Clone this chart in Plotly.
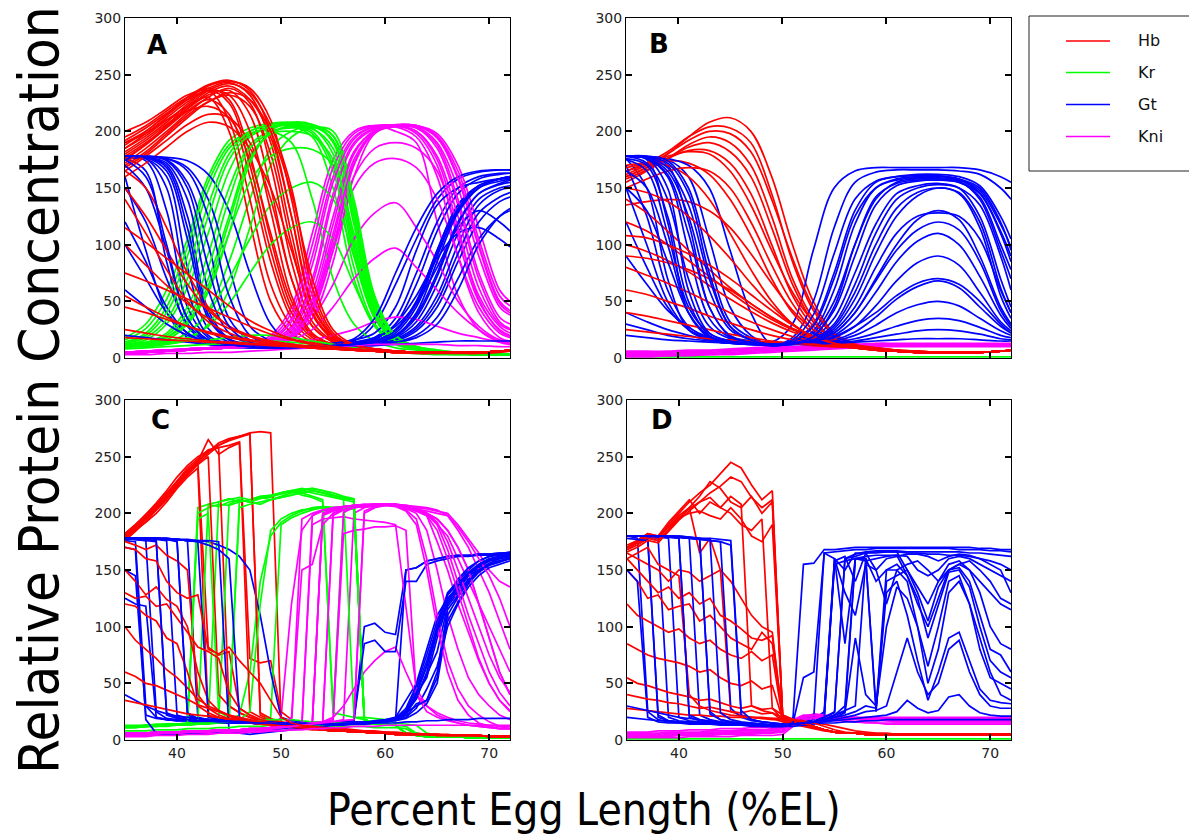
import plotly.graph_objects as go

# Positions along the anterior-posterior axis (%EL)
EL_SMOOTH = [35, 37, 39, 41, 43, 45, 47, 49, 51, 53, 55, 57, 59, 61, 63, 65, 67, 69, 71, 72]
EL_FINE = [35, 36, 37, 38, 39, 40, 41, 42, 43, 44, 45, 46, 47, 48, 49, 50, 51, 52, 53,
           54, 55, 56, 57, 58, 59, 60, 61, 62, 63, 64, 65, 66, 67, 68, 69, 70, 71, 72]

GENES = ["Hb", "Kr", "Gt", "Kni"]
GENE_COLORS = {"Hb": "#ff0000", "Kr": "#00ff00", "Gt": "#0000ff", "Kni": "#ff00ff"}

Y_TICKS = [0, 50, 100, 150, 200, 250, 300]
X_TICKS = [40, 50, 60, 70]

# ---------------- Panel A (smooth profiles, EL_SMOOTH) ----------------
A_HB = [
    [185, 198, 212, 226, 238, 243, 232, 190, 110, 40, 18, 10, 8, 6, 5, 5, 5, 5, 6, 7],
    [190, 200, 214, 228, 240, 244, 238, 210, 140, 55, 20, 11, 8, 6, 5, 5, 5, 5, 6, 7],
    [180, 192, 206, 220, 232, 236, 215, 150, 70, 28, 14, 9, 7, 6, 5, 5, 5, 5, 6, 7],
    [195, 205, 218, 230, 238, 228, 180, 105, 45, 20, 12, 9, 7, 6, 5, 5, 5, 5, 6, 7],
    [175, 188, 203, 218, 228, 215, 160, 85, 35, 16, 10, 8, 6, 5, 5, 5, 5, 5, 6, 7],
    [200, 208, 220, 232, 236, 210, 140, 65, 28, 14, 10, 8, 6, 5, 5, 5, 5, 5, 6, 7],
    [170, 182, 198, 214, 226, 232, 222, 180, 100, 38, 17, 10, 7, 6, 5, 5, 5, 5, 6, 7],
    [185, 196, 210, 222, 230, 200, 120, 50, 22, 12, 9, 7, 6, 5, 5, 5, 5, 5, 6, 7],
    [165, 178, 192, 206, 215, 212, 190, 140, 70, 28, 14, 9, 7, 6, 5, 5, 5, 5, 6, 7],
    [190, 198, 210, 218, 222, 212, 175, 110, 50, 20, 12, 9, 7, 6, 5, 5, 5, 5, 6, 7],
    [178, 190, 204, 220, 234, 240, 228, 195, 125, 48, 19, 10, 7, 6, 5, 5, 5, 5, 6, 7],
    [160, 172, 186, 200, 208, 204, 185, 150, 95, 40, 16, 10, 7, 6, 5, 5, 5, 5, 6, 7],
    [172, 185, 200, 216, 230, 238, 225, 170, 85, 32, 15, 9, 7, 6, 5, 5, 5, 5, 6, 7],
    [182, 194, 208, 224, 236, 225, 170, 95, 40, 18, 11, 8, 6, 5, 5, 5, 5, 5, 6, 7],
    [188, 200, 215, 230, 241, 245, 236, 200, 125, 45, 19, 10, 8, 6, 5, 5, 5, 5, 6, 7],
    [176, 189, 205, 222, 236, 242, 234, 205, 150, 62, 22, 11, 8, 6, 5, 5, 5, 5, 6, 7],
    [192, 203, 216, 228, 236, 232, 200, 130, 55, 22, 12, 9, 7, 6, 5, 5, 5, 5, 6, 7],
    [168, 180, 196, 212, 226, 234, 228, 200, 145, 70, 25, 12, 8, 6, 5, 5, 5, 5, 6, 7],
    [165, 150, 115, 75, 45, 28, 19, 14, 11, 9, 8, 7, 6, 5, 5, 5, 5, 5, 6, 7],
    [150, 125, 95, 65, 42, 28, 20, 15, 12, 10, 8, 7, 6, 5, 5, 5, 5, 5, 6, 7],
    [140, 110, 78, 50, 32, 22, 16, 13, 11, 9, 8, 7, 6, 5, 5, 5, 5, 5, 6, 7],
    [115, 102, 88, 74, 60, 46, 33, 24, 17, 13, 10, 8, 7, 6, 5, 5, 5, 5, 6, 7],
    [100, 82, 64, 48, 35, 26, 19, 15, 12, 10, 8, 7, 6, 5, 5, 5, 5, 5, 6, 7],
    [75, 68, 60, 52, 44, 36, 28, 21, 16, 12, 10, 8, 7, 6, 5, 5, 5, 5, 6, 7],
    [55, 45, 36, 28, 22, 18, 15, 13, 11, 9, 8, 7, 6, 5, 5, 5, 5, 5, 6, 7],
    [45, 40, 34, 28, 23, 19, 16, 13, 11, 9, 8, 7, 6, 5, 5, 5, 5, 5, 6, 7],
    [25, 22, 19, 17, 15, 14, 13, 12, 11, 10, 9, 8, 7, 6, 5, 5, 5, 5, 6, 7],
    [18, 17, 16, 15, 14, 13, 12, 11, 10, 9, 8, 7, 6, 5, 4, 4, 4, 4, 5, 6],
]
A_KR = [
    [18, 30, 60, 105, 160, 192, 203, 207, 208, 206, 196, 130, 50, 20, 10, 7, 5, 4, 3, 3],
    [12, 16, 30, 62, 110, 165, 195, 203, 205, 200, 170, 90, 35, 15, 9, 6, 4, 3, 3, 3],
    [10, 12, 18, 35, 70, 125, 178, 198, 204, 195, 150, 70, 28, 13, 8, 6, 4, 3, 3, 3],
    [10, 11, 14, 22, 42, 85, 140, 185, 200, 204, 192, 120, 45, 18, 9, 6, 4, 3, 3, 3],
    [14, 22, 45, 90, 148, 185, 198, 200, 190, 140, 70, 30, 15, 9, 7, 5, 4, 3, 3, 3],
    [12, 14, 22, 45, 92, 150, 188, 200, 203, 202, 185, 105, 40, 16, 9, 6, 4, 3, 3, 3],
    [16, 26, 52, 98, 155, 188, 200, 205, 205, 198, 165, 80, 30, 14, 8, 6, 4, 3, 3, 3],
    [10, 12, 16, 30, 60, 110, 155, 178, 185, 184, 170, 110, 42, 16, 9, 6, 4, 3, 3, 3],
    [10, 11, 14, 22, 40, 70, 105, 135, 150, 155, 140, 90, 35, 15, 9, 6, 4, 3, 3, 3],
    [10, 11, 13, 18, 28, 48, 75, 100, 115, 120, 105, 65, 28, 12, 8, 6, 4, 3, 3, 3],
    [10, 10, 12, 16, 30, 60, 115, 170, 195, 203, 200, 140, 55, 20, 10, 6, 4, 3, 3, 3],
    [10, 12, 16, 30, 58, 110, 172, 200, 208, 206, 190, 118, 42, 17, 9, 6, 4, 3, 3, 3],
    [11, 13, 20, 40, 80, 140, 185, 198, 200, 196, 175, 95, 36, 15, 8, 6, 4, 3, 3, 3],
    [14, 20, 40, 80, 135, 180, 200, 206, 207, 205, 192, 125, 48, 19, 10, 7, 5, 4, 3, 3],
    [11, 13, 18, 32, 64, 120, 175, 198, 205, 204, 196, 135, 52, 20, 10, 6, 4, 3, 3, 3],
    [13, 18, 34, 70, 125, 175, 197, 204, 206, 203, 180, 100, 38, 15, 9, 6, 4, 3, 3, 3],
    [12, 13, 14, 15, 16, 18, 20, 20, 18, 15, 12, 9, 7, 5, 4, 4, 3, 3, 3, 3],
    [8, 9, 10, 11, 12, 13, 14, 15, 14, 12, 10, 8, 6, 5, 4, 3, 3, 3, 3, 3],
]
A_GT = [
    [160, 95, 40, 18, 12, 10, 9, 9, 9, 10, 10, 12, 15, 25, 50, 95, 135, 152, 158, 160],
    [176, 165, 85, 28, 14, 11, 10, 9, 10, 10, 11, 13, 18, 35, 75, 120, 150, 160, 163, 163],
    [177, 174, 130, 45, 18, 12, 10, 9, 9, 9, 10, 11, 13, 18, 32, 65, 110, 140, 150, 152],
    [178, 176, 160, 80, 26, 14, 11, 10, 10, 11, 12, 15, 30, 65, 105, 140, 158, 164, 166, 166],
    [178, 177, 170, 125, 42, 17, 12, 10, 9, 9, 10, 11, 12, 15, 24, 45, 85, 120, 138, 142],
    [178, 178, 175, 155, 100, 35, 16, 12, 9, 10, 10, 11, 13, 17, 28, 55, 100, 135, 148, 150],
    [177, 178, 176, 168, 140, 80, 28, 15, 9, 10, 11, 12, 16, 30, 55, 88, 110, 115, 105, 98],
    [176, 177, 177, 174, 162, 130, 75, 30, 12, 10, 11, 13, 17, 30, 65, 112, 145, 158, 162, 163],
    [150, 120, 70, 30, 15, 11, 10, 9, 9, 9, 10, 11, 12, 14, 20, 36, 70, 105, 125, 130],
    [120, 85, 45, 22, 13, 10, 9, 9, 10, 11, 13, 16, 22, 45, 95, 135, 150, 155, 158, 158],
    [100, 70, 40, 22, 14, 11, 10, 9, 9, 10, 10, 12, 15, 25, 50, 95, 135, 152, 158, 160],
    [178, 177, 172, 140, 60, 22, 13, 11, 10, 11, 12, 14, 18, 28, 48, 80, 115, 130, 120, 112],
    [178, 176, 150, 60, 20, 13, 11, 10, 9, 10, 10, 12, 14, 20, 38, 75, 120, 145, 153, 155],
    [178, 178, 176, 165, 125, 55, 20, 12, 10, 10, 11, 12, 13, 16, 26, 50, 92, 128, 142, 146],
    [60, 45, 30, 20, 14, 11, 10, 9, 10, 11, 13, 17, 35, 75, 115, 145, 160, 165, 166, 166],
    [20, 18, 16, 14, 12, 11, 10, 9, 9, 9, 10, 10, 11, 12, 13, 14, 15, 15, 15, 15],
    [178, 177, 165, 105, 35, 16, 12, 10, 9, 9, 10, 11, 12, 14, 18, 30, 60, 100, 125, 132],
    [170, 150, 95, 35, 16, 12, 10, 9, 10, 10, 11, 12, 14, 20, 40, 85, 128, 150, 158, 160],
    [178, 177, 168, 115, 38, 16, 12, 10, 9, 10, 10, 12, 14, 22, 45, 90, 130, 150, 156, 158],
    [175, 160, 100, 35, 16, 12, 10, 9, 9, 10, 11, 12, 15, 24, 48, 92, 132, 152, 158, 160],
    [178, 178, 174, 150, 80, 28, 14, 11, 10, 10, 11, 12, 14, 19, 36, 72, 118, 145, 154, 157],
]
A_KNI = [
    [5, 6, 7, 8, 9, 10, 12, 20, 45, 110, 175, 200, 205, 200, 190, 120, 55, 25, 14, 12],
    [5, 6, 7, 8, 9, 10, 11, 15, 28, 70, 145, 190, 203, 205, 198, 170, 105, 50, 25, 20],
    [4, 5, 6, 7, 8, 9, 10, 13, 20, 48, 110, 175, 200, 205, 204, 190, 150, 90, 45, 38],
    [4, 5, 6, 7, 8, 9, 10, 12, 17, 35, 85, 160, 198, 205, 205, 198, 170, 115, 60, 50],
    [5, 6, 7, 8, 9, 10, 12, 17, 35, 90, 160, 195, 204, 204, 195, 160, 90, 40, 18, 15],
    [5, 5, 6, 7, 8, 9, 10, 14, 24, 58, 125, 182, 200, 204, 203, 185, 135, 70, 32, 26],
    [4, 5, 6, 7, 8, 9, 10, 13, 20, 45, 100, 160, 185, 190, 185, 165, 110, 55, 28, 22],
    [4, 5, 6, 7, 8, 9, 10, 13, 20, 42, 95, 150, 172, 176, 168, 140, 90, 45, 22, 18],
    [4, 5, 6, 7, 8, 9, 10, 12, 18, 35, 65, 105, 128, 137, 115, 85, 50, 28, 16, 14],
    [4, 5, 6, 7, 8, 9, 10, 12, 16, 25, 45, 70, 88, 97, 80, 60, 40, 25, 15, 13],
    [4, 5, 6, 7, 8, 9, 10, 11, 13, 16, 20, 25, 32, 36, 34, 28, 22, 18, 14, 13],
    [5, 6, 7, 8, 9, 10, 12, 18, 40, 100, 168, 198, 205, 205, 200, 178, 125, 62, 30, 25],
    [4, 5, 6, 7, 8, 9, 10, 12, 18, 40, 95, 170, 200, 206, 205, 195, 160, 100, 50, 42],
    [5, 6, 7, 8, 9, 10, 11, 14, 26, 65, 140, 188, 202, 205, 203, 188, 140, 75, 36, 30],
    [4, 5, 6, 7, 8, 9, 10, 13, 22, 52, 118, 180, 201, 205, 205, 196, 165, 105, 55, 46],
    [5, 6, 7, 8, 9, 10, 12, 16, 32, 82, 155, 193, 204, 205, 200, 175, 115, 52, 24, 19],
    [4, 5, 6, 7, 8, 9, 10, 12, 19, 45, 105, 172, 199, 205, 205, 194, 158, 98, 48, 40],
    [3, 3, 4, 4, 5, 5, 6, 7, 8, 9, 10, 11, 12, 12, 12, 12, 11, 11, 10, 10],
]

# ---------------- Panel B (smooth profiles, EL_SMOOTH) ----------------
B_HB = [
    [160, 168, 180, 195, 208, 212, 200, 160, 100, 50, 22, 13, 9, 7, 6, 5, 5, 5, 6, 7],
    [165, 172, 182, 195, 204, 203, 190, 145, 85, 42, 20, 12, 9, 7, 6, 5, 5, 5, 6, 7],
    [155, 165, 176, 188, 195, 190, 170, 125, 70, 35, 17, 11, 8, 6, 5, 5, 5, 5, 6, 7],
    [160, 168, 176, 183, 183, 172, 145, 100, 55, 28, 15, 10, 8, 6, 5, 5, 5, 5, 6, 7],
    [165, 170, 174, 172, 162, 140, 108, 70, 40, 22, 13, 10, 8, 6, 5, 5, 5, 5, 6, 7],
    [150, 158, 165, 168, 165, 150, 120, 82, 48, 25, 14, 10, 8, 6, 5, 5, 5, 5, 6, 7],
    [170, 172, 170, 160, 140, 110, 78, 50, 30, 18, 12, 9, 7, 6, 5, 5, 5, 5, 6, 7],
    [158, 166, 176, 186, 190, 182, 160, 115, 65, 32, 16, 11, 8, 6, 5, 5, 5, 5, 6, 7],
    [162, 170, 180, 192, 200, 198, 182, 140, 88, 45, 21, 12, 9, 7, 6, 5, 5, 5, 6, 7],
    [168, 172, 178, 182, 180, 165, 135, 95, 58, 32, 17, 11, 9, 7, 6, 5, 5, 5, 6, 7],
    [135, 138, 140, 138, 130, 115, 92, 66, 42, 25, 15, 10, 8, 6, 5, 5, 5, 5, 6, 7],
    [140, 128, 112, 95, 78, 62, 48, 36, 26, 19, 14, 10, 8, 6, 5, 5, 5, 5, 6, 7],
    [120, 112, 100, 86, 72, 58, 45, 34, 25, 18, 13, 10, 8, 6, 5, 5, 5, 5, 6, 7],
    [100, 94, 86, 76, 64, 52, 41, 31, 23, 17, 13, 10, 8, 6, 5, 5, 5, 5, 6, 7],
    [90, 88, 84, 78, 70, 60, 48, 36, 26, 19, 14, 10, 8, 6, 5, 5, 5, 5, 6, 7],
    [80, 73, 66, 58, 49, 40, 32, 25, 19, 15, 12, 9, 7, 6, 5, 5, 5, 5, 6, 7],
    [60, 56, 50, 44, 37, 31, 25, 20, 16, 13, 11, 9, 7, 6, 5, 5, 5, 5, 6, 7],
    [40, 37, 33, 29, 25, 21, 18, 15, 13, 11, 10, 9, 7, 6, 5, 5, 5, 5, 6, 7],
    [25, 23, 21, 19, 17, 16, 15, 14, 13, 12, 10, 9, 7, 6, 5, 5, 5, 5, 6, 7],
    [150, 146, 138, 125, 108, 88, 66, 46, 30, 19, 13, 10, 8, 6, 5, 5, 5, 5, 6, 7],
    [108, 106, 100, 92, 82, 70, 56, 42, 29, 19, 13, 10, 8, 6, 5, 5, 5, 5, 6, 7],
]
B_KR = [
    [1, 1, 1, 1, 1, 1, 1, 1, 1, 1, 1, 1, 1, 1, 1, 1, 1, 1, 1, 1],
]
B_GT = [
    [178, 175, 120, 40, 18, 14, 13, 12, 15, 30, 75, 130, 155, 160, 162, 162, 160, 152, 125, 105],
    [178, 178, 170, 120, 45, 20, 15, 14, 30, 95, 150, 165, 168, 168, 168, 168, 168, 166, 160, 155],
    [176, 150, 70, 25, 16, 13, 12, 12, 13, 15, 22, 40, 70, 100, 122, 130, 122, 90, 45, 30],
    [178, 177, 175, 160, 105, 45, 20, 12, 18, 50, 115, 155, 164, 166, 166, 166, 165, 162, 150, 140],
    [178, 178, 176, 170, 150, 95, 40, 12, 14, 24, 60, 118, 150, 158, 160, 160, 158, 150, 120, 95],
    [120, 80, 45, 25, 17, 14, 13, 12, 13, 15, 20, 34, 58, 85, 103, 110, 100, 72, 38, 26],
    [170, 125, 60, 28, 17, 14, 13, 12, 13, 18, 35, 75, 118, 145, 152, 154, 150, 125, 70, 45],
    [178, 176, 160, 95, 35, 18, 14, 12, 14, 22, 50, 100, 140, 155, 158, 158, 156, 140, 95, 70],
    [90, 65, 42, 27, 18, 14, 13, 12, 13, 14, 16, 23, 36, 52, 63, 68, 62, 45, 28, 22],
    [178, 172, 140, 70, 28, 17, 14, 12, 13, 20, 42, 90, 135, 152, 156, 157, 155, 145, 110, 85],
    [175, 165, 110, 45, 22, 15, 13, 12, 13, 16, 26, 52, 92, 125, 143, 150, 145, 115, 55, 35],
    [40, 32, 25, 20, 16, 14, 13, 11, 12, 13, 14, 17, 22, 28, 33, 35, 33, 27, 20, 18],
    [178, 178, 174, 150, 85, 32, 18, 12, 13, 17, 30, 65, 110, 140, 150, 153, 150, 135, 90, 60],
    [150, 100, 50, 25, 16, 13, 12, 12, 13, 14, 18, 28, 46, 68, 84, 90, 82, 58, 32, 24],
    [178, 176, 165, 125, 60, 25, 16, 12, 13, 15, 24, 45, 80, 110, 125, 128, 125, 105, 60, 40],
    [30, 25, 20, 17, 15, 13, 12, 11, 12, 13, 14, 15, 18, 21, 24, 25, 24, 21, 17, 16],
    [178, 177, 168, 135, 70, 28, 16, 12, 13, 14, 15, 20, 29, 40, 47, 50, 46, 35, 24, 20],
    [20, 18, 16, 15, 14, 13, 12, 11, 12, 12, 13, 14, 15, 16, 17, 17, 17, 16, 15, 15],
    [178, 176, 150, 60, 22, 15, 13, 12, 16, 38, 92, 140, 156, 160, 161, 161, 158, 148, 118, 98],
    [176, 170, 125, 50, 20, 14, 13, 12, 14, 28, 70, 125, 150, 157, 159, 159, 157, 146, 112, 90],
    [178, 177, 172, 145, 75, 28, 16, 12, 13, 19, 45, 100, 142, 154, 157, 157, 155, 142, 100, 78],
    [150, 130, 85, 40, 19, 14, 13, 12, 13, 16, 28, 58, 100, 132, 146, 150, 146, 120, 62, 40],
    [165, 150, 100, 40, 19, 14, 13, 12, 13, 15, 22, 40, 68, 95, 113, 120, 113, 85, 42, 28],
    [178, 176, 162, 110, 45, 19, 14, 12, 13, 15, 19, 28, 40, 55, 66, 70, 65, 50, 30, 22],
]
B_KNI = [
    [2, 2, 2, 3, 3, 4, 5, 6, 7, 8, 9, 10, 10, 11, 11, 11, 11, 11, 11, 11],
    [4, 4, 4, 5, 5, 6, 7, 8, 9, 10, 11, 11, 12, 12, 12, 12, 12, 12, 12, 12],
    [6, 6, 6, 7, 7, 8, 9, 10, 10, 11, 12, 12, 13, 13, 13, 13, 13, 13, 13, 13],
    [3, 3, 3, 4, 4, 5, 6, 7, 8, 9, 10, 11, 11, 12, 12, 12, 12, 12, 12, 12],
    [5, 5, 5, 6, 6, 7, 8, 9, 9, 10, 11, 12, 12, 12, 12, 12, 12, 12, 12, 12],
    [1, 1, 2, 2, 3, 3, 4, 5, 6, 7, 8, 9, 10, 10, 10, 10, 10, 10, 10, 10],
]

# ---------------- Panel C (per-%EL profiles, EL_FINE) ----------------
C_HB = [
    [180, 188, 196, 204, 214, 224, 234, 244, 252, 260, 265, 268, 271, 272, 271,
     16, 14, 12, 11, 10, 9, 8, 8, 7, 7, 6, 6, 5, 5, 5, 4, 4, 4, 4, 3, 3, 3, 3],
    [182, 190, 198, 207, 216, 226, 236, 246, 254, 260, 264, 267, 270,
     22, 18, 15, 13, 12, 11, 10, 9, 8, 8, 7, 7, 6, 6, 5, 5, 5, 4, 4, 4, 4, 3, 3, 3, 3],
    [178, 186, 195, 205, 215, 228, 238, 246, 265, 252, 258, 262,
     72, 68, 70, 25, 18, 15, 13, 12, 11, 10, 9, 8, 8, 7, 7, 6, 6, 5, 5, 5, 4, 4, 4, 3, 3, 3],
    [176, 184, 193, 203, 213, 225, 236, 245,
     82, 75, 78, 28, 22, 18, 15, 14, 13, 12, 11, 10, 9, 8, 8, 7, 7, 6, 6, 5, 5, 5, 4, 4, 4, 4, 3, 3, 3, 3],
    [180, 185, 192, 200, 210, 222, 232, 240,
     22, 19, 17, 16, 15, 14, 13, 12, 12, 11, 10, 9, 8, 8, 7, 7, 6, 6, 5, 5, 5, 4, 4, 4, 4, 3, 3, 3, 3, 3],
    [179, 187, 197, 206, 217, 229, 240, 248, 256, 258, 260, 263,
     25, 20, 17, 15, 13, 12, 11, 10, 9, 8, 8, 7, 7, 6, 6, 5, 5, 5, 4, 4, 4, 3, 3, 3, 3, 3],
    [181, 189, 199, 209, 220, 232, 242, 250, 255, 258,
     30, 24, 20, 17, 15, 13, 12, 11, 10, 9, 8, 8, 7, 7, 6, 6, 5, 5, 5, 4, 4, 4, 4, 3, 3, 3, 3, 3],
    [182, 190, 199, 208, 218, 228, 238, 246, 254, 262, 266, 268, 270,
     24, 19, 16, 14, 12, 11, 10, 9, 8, 8, 7, 7, 6, 6, 5, 5, 5, 4, 4, 4, 4, 3, 3, 3, 3],
    [178, 185, 193, 203, 212, 224, 234, 243, 250,
     40, 30, 24, 20, 17, 15, 13, 12, 11, 10, 9, 8, 8, 7, 7, 6, 6, 5, 5, 5, 4, 4, 4, 4, 3, 3, 3, 3, 3],
    [175, 172, 168, 172, 163, 158, 150, 40, 28, 22, 19, 17, 16, 15, 14, 13, 12, 11, 10,
     9, 8, 8, 7, 7, 6, 6, 5, 5, 5, 5, 5, 4, 4, 4, 4, 3, 3, 3],
    [150, 140, 128, 135, 124, 118, 100, 60, 35, 26, 21, 18, 16, 15, 14, 13, 12, 11, 10,
     9, 8, 8, 7, 7, 6, 6, 5, 5, 5, 5, 4, 4, 4, 4, 4, 3, 3, 3],
    [130, 125, 127, 118, 120, 108, 95, 82, 78, 72, 42, 28, 22, 18, 16, 14, 12, 11, 10,
     9, 8, 8, 7, 7, 6, 6, 5, 5, 5, 5, 4, 4, 4, 4, 4, 3, 3, 3],
    [120, 118, 110, 105, 90, 85, 60, 30, 24, 20, 18, 16, 15, 14, 13, 12, 11, 10, 9,
     9, 8, 8, 7, 7, 6, 6, 5, 5, 5, 5, 4, 4, 4, 4, 4, 3, 3, 3],
    [100, 88, 80, 72, 62, 55, 46, 36, 30, 26, 22, 19, 17, 15, 14, 13, 12, 11, 10,
     9, 8, 8, 7, 7, 6, 6, 5, 5, 5, 5, 4, 4, 4, 4, 4, 3, 3, 3],
    [60, 56, 50, 48, 44, 40, 36, 31, 28, 25, 22, 20, 18, 16, 15, 14, 12, 11, 10,
     9, 8, 8, 7, 7, 6, 6, 5, 5, 5, 5, 4, 4, 4, 4, 4, 3, 3, 3],
    [35, 33, 31, 29, 27, 25, 23, 22, 21, 20, 19, 18, 17, 16, 15, 14, 13, 12, 11,
     10, 9, 8, 8, 7, 7, 6, 6, 5, 5, 5, 5, 4, 4, 4, 4, 3, 3, 3],
    [170, 168, 160, 158, 140, 130, 125, 128, 80, 76, 82, 70, 60, 50, 35, 20, 15, 13, 12,
     11, 10, 9, 8, 8, 7, 7, 6, 6, 5, 5, 5, 4, 4, 4, 4, 3, 3, 3],
]
C_KR = [
    [12, 12, 13, 13, 13, 14, 14,
     205, 208, 206, 210, 212, 210, 214, 212, 215, 218, 220, 218, 216, 214, 212, 210,
     18, 15, 14, 13, 6, 4, 3, 3, 3, 3, 2, 2, 2, 2, 2],
    [11, 12, 12, 12, 13, 13, 13, 14, 15,
     210, 213, 210, 212, 215, 214, 218, 220, 222, 220, 218, 215, 213, 212,
     18, 15, 14, 13, 6, 4, 3, 3, 3, 3, 2, 2, 2, 2, 2],
    [12, 12, 12, 13, 13, 13, 14, 14, 15, 15, 16,
     212, 210, 208, 212, 214, 216, 220, 222, 220, 218, 215, 213,
     18, 15, 14, 13, 6, 4, 3, 3, 3, 3, 2, 2, 2, 2, 2],
    [12, 12, 13, 13, 14, 14, 14, 15, 16, 17, 18, 22,
     60, 140, 180, 192, 198, 202, 205, 206, 205, 205, 204,
     18, 15, 14, 13, 6, 4, 3, 3, 3, 3, 2, 2, 2, 2, 2],
    [11, 11, 12, 12, 12, 13, 13, 14, 14, 15, 15, 16, 17, 18, 20,
     190, 196, 200, 203, 205, 204, 205, 206,
     18, 15, 14, 13, 6, 4, 3, 3, 3, 3, 2, 2, 2, 2, 2],
    [13, 13, 13, 14, 14, 14, 15,
     200, 205, 208, 207, 210, 212, 214, 215, 218, 220, 216, 214, 210, 25, 200, 208,
     18, 15, 14, 13, 6, 4, 3, 3, 3, 3, 2, 2, 2, 2, 2],
    [12, 12, 13, 13, 14, 14, 15, 16,
     208, 210, 212, 214, 212, 215, 216, 218, 220, 218, 215, 212,
     24, 22, 20, 20, 19, 18, 15, 14, 13, 6, 4, 3, 3, 3, 2, 2, 2, 2],
    [12, 12, 12, 13, 13, 14, 14, 15, 15, 16,
     208, 212, 210, 213, 215, 217, 219, 221, 222, 220, 216, 212,
     20, 18, 15, 14, 13, 6, 4, 3, 3, 3, 3, 2, 2, 2, 2, 2],
    [11, 11, 12, 12, 13, 13, 14, 14, 15, 15, 16, 18, 25,
     120, 185, 195, 200, 203, 204, 206, 205, 205, 204,
     18, 15, 14, 13, 6, 4, 3, 3, 3, 3, 2, 2, 2, 2, 2],
    [12, 12, 12, 13, 13, 13, 14, 195, 200, 25, 20,
     205, 208, 210, 212, 214, 216, 218, 220, 218, 216, 214, 212,
     18, 15, 14, 13, 6, 4, 3, 3, 3, 3, 2, 2, 2, 2, 2],
    [12, 12, 13, 13, 14, 14, 14, 15, 15, 15, 16, 16, 17, 17, 18, 18, 18, 17, 16,
     16, 15, 15, 15, 14, 14, 13, 13, 12, 6, 4, 3, 3, 3, 3, 2, 2, 2, 2],
    [8, 8, 8, 9, 9, 9, 10, 10, 10, 11, 11, 12, 12, 12, 13, 13, 13, 13, 13,
     13, 12, 12, 12, 12, 11, 11, 11, 10, 5, 4, 3, 3, 3, 2, 2, 2, 2, 2],
]
C_GT = [
    [176, 175, 30, 20, 18, 17, 17, 16, 16, 15, 15, 15, 15, 14, 14, 14, 14, 14, 14, 14,
     14, 15, 15, 16, 16, 17, 20, 35, 50, 80, 110, 125, 135, 145, 152, 158, 160, 162],
    [178, 177, 176, 25, 19, 18, 17, 17, 16, 16, 15, 15, 15, 15, 14, 14, 14, 14, 14, 14,
     14, 14, 15, 15, 16, 17, 18, 150, 152, 158, 160, 162, 163, 163, 164, 164, 165, 165],
    [178, 178, 177, 176, 24, 20, 18, 17, 17, 16, 16, 15, 15, 15, 15, 14, 14, 14, 14, 14,
     14, 14, 15, 15, 16, 16, 18, 22, 38, 58, 78, 118, 130, 142, 150, 155, 158, 160],
    [178, 178, 178, 177, 176, 22, 19, 18, 17, 17, 16, 16, 15, 15, 15, 15, 14, 14, 14, 14,
     14, 15, 15, 16, 16, 17, 19, 26, 45, 70, 100, 130, 140, 150, 158, 162, 163, 165],
    [177, 178, 178, 178, 177, 175, 22, 19, 18, 17, 17, 16, 16, 15, 15, 15, 15, 14, 14, 14,
     15, 16, 17, 100, 103, 95, 93, 150, 152, 158, 160, 162, 163, 163, 164, 164, 165, 165],
    [178, 178, 178, 178, 178, 177, 176, 20, 18, 17, 17, 16, 16, 15, 15, 15, 15, 14, 14, 14,
     13, 14, 14, 15, 15, 16, 17, 20, 32, 35, 60, 115, 128, 140, 150, 156, 160, 162],
    [178, 178, 178, 178, 177, 177, 176, 176, 175, 172, 168, 162, 150, 110, 60, 20, 17, 16, 15, 15,
     13, 14, 14, 15, 16, 17, 18, 20, 28, 45, 65, 100, 120, 135, 145, 152, 155, 158],
    [150, 145, 22, 19, 18, 17, 17, 16, 16, 15, 15, 15, 15, 14, 14, 14, 14, 14, 14, 14,
     14, 15, 16, 16, 17, 18, 20, 25, 40, 55, 90, 120, 132, 145, 150, 155, 158, 160],
    [125, 120, 118, 20, 18, 17, 17, 16, 16, 15, 15, 15, 15, 14, 14, 14, 14, 14, 14, 14,
     13, 14, 14, 15, 15, 16, 17, 19, 24, 32, 50, 105, 122, 138, 148, 154, 157, 160],
    [178, 178, 178, 178, 178, 177, 177, 176, 176, 175, 8, 6, 5, 6, 7, 8, 9, 10, 11, 12,
     15, 16, 17, 85, 88, 78, 78, 140, 140, 155, 158, 160, 162, 162, 163, 163, 164, 164],
    [178, 178, 178, 178, 177, 177, 176, 175, 20, 18, 17, 16, 16, 15, 15, 15, 15, 14, 14, 14,
     14, 14, 15, 15, 16, 16, 18, 24, 36, 60, 95, 122, 134, 146, 153, 158, 161, 163],
    [40, 35, 30, 26, 23, 21, 20, 19, 18, 18, 17, 17, 16, 16, 15, 15, 15, 14, 14, 14,
     14, 14, 14, 14, 15, 15, 15, 16, 16, 17, 17, 18, 18, 18, 19, 19, 19, 19],
    [170, 168, 18, 6, 5, 5, 6, 6, 7, 7, 8, 8, 9, 9, 10, 10, 11, 11, 12, 12,
     13, 13, 14, 14, 15, 16, 18, 22, 40, 65, 100, 128, 142, 152, 158, 162, 164, 166],
    [178, 178, 178, 178, 177, 177, 176, 175, 172, 168, 160, 20, 17, 16, 16, 15, 15, 15, 14, 14,
     14, 15, 15, 16, 16, 17, 19, 24, 30, 35, 55, 110, 126, 140, 149, 155, 158, 161],
    [178, 178, 178, 178, 178, 176, 24, 19, 18, 17, 17, 16, 16, 15, 15, 15, 15, 14, 14, 14,
     14, 14, 15, 15, 16, 17, 19, 28, 48, 75, 105, 128, 138, 148, 155, 160, 162, 164],
    [178, 177, 176, 175, 22, 19, 18, 17, 17, 16, 16, 15, 15, 15, 15, 14, 14, 14, 14, 14,
     13, 14, 14, 15, 15, 16, 18, 24, 42, 66, 96, 124, 136, 147, 154, 159, 161, 163],
]
C_KNI = [
    [6, 6, 6, 7, 7, 7, 8, 8, 8, 9, 9, 9, 10, 10, 11, 20, 120, 185, 198, 202,
     204, 205, 206, 206, 207, 207, 208,
     207, 205, 204, 202, 200, 190, 178, 165, 150, 140, 135],
    [5, 5, 6, 6, 6, 7, 7, 7, 8, 8, 8, 9, 9, 10, 10, 11, 12,
     195, 200, 203, 205, 206, 207, 207, 208, 208, 208,
     206, 204, 200, 190, 180, 160, 140, 120, 100, 80, 60],
    [6, 6, 6, 7, 7, 7, 8, 8, 8, 9, 9, 9, 10, 10, 11, 12, 13, 14, 15,
     198, 202, 204, 206, 207, 208, 208, 208,
     205, 202, 198, 175, 150, 120, 95, 70, 50, 35, 25],
    [5, 5, 5, 6, 6, 6, 7, 7, 7, 8, 8, 8, 9, 9, 10, 11, 12, 13, 14, 15,
     200, 204, 206, 207, 208, 208, 207,
     204, 200, 185, 150, 110, 80, 55, 40, 30, 22, 18],
    [5, 5, 5, 6, 6, 6, 7, 7, 7, 8, 8, 8, 9, 9, 10, 11, 12, 13, 14, 15, 16, 18,
     200, 205, 207, 208, 208,
     205, 203, 200, 195, 185, 170, 150, 120, 90, 60, 40],
    [6, 6, 6, 6, 7, 7, 7, 8, 8, 8, 9, 9, 9, 10, 10, 11, 12, 13, 14, 15, 16, 17, 18,
     202, 206, 207, 208,
     206, 204, 202, 200, 198, 185, 170, 150, 130, 105, 80],
    [5, 5, 5, 6, 6, 6, 7, 7, 7, 8, 8, 8, 9, 9, 10, 11, 12, 14,
     190, 195, 196, 197, 195, 194, 193, 192, 190,
     120, 45, 30, 22, 18, 15, 13, 12, 11, 10, 10],
    [4, 4, 4, 5, 5, 5, 6, 6, 6, 7, 7, 7, 8, 8, 9, 10, 11, 12, 14, 16, 20,
     30, 45, 60, 70, 78, 82,
     60, 40, 30, 24, 20, 17, 15, 14, 13, 12, 12],
    [6, 6, 6, 7, 7, 7, 8, 8, 8, 9, 9, 9, 10, 10, 11, 12, 13, 14, 15, 16, 18,
     182, 185, 186, 188, 188, 189, 185,
     40, 25, 20, 17, 15, 13, 12, 11, 10, 10],
    [5, 5, 6, 6, 6, 7, 7, 7, 8, 8, 8, 9, 9, 10, 10, 11, 12, 13, 14,
     200, 204, 206, 207, 208, 208, 208, 207,
     203, 195, 160, 110, 70, 45, 30, 22, 16, 12, 10],
    [6, 6, 6, 7, 7, 7, 8, 8, 8, 9, 9, 9, 10, 10, 11, 12, 13, 14, 15, 16,
     198, 203, 205, 206, 207, 207, 206,
     202, 190, 150, 100, 60, 35, 22, 15, 12, 10, 10],
    [5, 5, 5, 6, 6, 6, 7, 7, 7, 8, 8, 8, 9, 9, 10, 12, 20,
     150, 155, 190, 200, 203, 205, 206, 206, 207, 207,
     205, 203, 200, 195, 185, 170, 150, 120, 90, 60, 40],
    [5, 5, 5, 6, 6, 6, 7, 7, 7, 8, 8, 8, 9, 9, 10, 11, 12, 13,
     198, 203, 205, 206, 207, 207, 208, 208, 208,
     207, 206, 205, 203, 198, 188, 175, 160, 145, 125, 100],
    [6, 6, 6, 7, 7, 7, 8, 8, 8, 9, 9, 9, 10, 10, 11, 12, 13, 14, 15, 16, 17,
     201, 205, 207, 208, 208, 208,
     206, 204, 200, 192, 175, 150, 125, 100, 75, 55, 42],
    [5, 5, 5, 6, 6, 6, 7, 7, 7, 8, 8, 8, 9, 9, 10, 11, 12, 13, 14,
     199, 203, 205, 207, 208, 208, 208, 207,
     205, 203, 199, 190, 168, 140, 110, 85, 60, 42, 30],
    [5, 5, 5, 6, 6, 6, 7, 7, 7, 8, 8, 8, 9, 9, 10, 11, 12, 13, 14, 15, 16, 17, 18,
     200, 205, 207, 207,
     205, 202, 198, 185, 160, 130, 100, 72, 50, 35, 26],
    [3, 3, 3, 4, 4, 4, 5, 5, 5, 6, 6, 6, 7, 7, 8, 8, 9, 9, 10,
     10, 11, 11, 12, 12, 12, 13, 13, 13, 13, 13, 13, 13, 13, 13, 13, 13, 13, 13],
]

# ---------------- Panel D (per-%EL profiles, EL_FINE) ----------------
D_HB = [
    [170, 175, 180, 178, 190, 200, 210, 218, 225, 235, 245, 240, 225, 212, 220,
     20, 18, 15, 12, 9, 7, 6, 6, 5, 5, 5, 5, 5, 5, 5, 5, 5, 5, 5, 5, 5, 5, 5],
    [168, 172, 178, 176, 185, 195, 205, 215, 228, 222, 210, 205, 215, 200, 210,
     20, 18, 15, 12, 9, 7, 6, 6, 5, 5, 5, 5, 5, 5, 5, 5, 5, 5, 5, 5, 5, 5, 5],
    [172, 176, 182, 180, 188, 196, 200, 202, 198, 195, 205, 195, 180, 175, 190,
     22, 18, 15, 12, 9, 7, 6, 6, 5, 5, 5, 5, 5, 5, 5, 5, 5, 5, 5, 5, 5, 5, 5],
    [170, 174, 180, 178, 188, 198, 205, 165, 178, 150,
     25, 22, 20, 19, 18, 18, 17, 16, 15, 14, 12, 10, 8, 7, 6, 6, 5, 5, 5, 5, 5, 5, 5, 5, 5, 5, 5, 5],
    [165, 160, 155, 150, 140, 150, 148, 140, 145, 150, 140, 125, 110, 100, 95,
     18, 16, 14, 11, 9, 7, 6, 6, 5, 5, 5, 5, 5, 5, 5, 5, 5, 5, 5, 5, 5, 5, 5],
    [150, 140, 125, 128, 115, 118, 120, 105, 110, 100, 90, 85, 80, 95, 85,
     20, 17, 14, 11, 9, 7, 6, 6, 5, 5, 5, 5, 5, 5, 5, 5, 5, 5, 5, 5, 5, 5, 5],
    [120, 110, 105, 100, 95, 98, 90, 85, 88, 80, 75, 72, 78, 70, 75,
     18, 16, 14, 11, 9, 7, 6, 6, 5, 5, 5, 5, 5, 5, 5, 5, 5, 5, 5, 5, 5, 5, 5],
    [85, 80, 75, 72, 70, 68, 65, 60, 62, 55, 50, 48, 52, 45, 48,
     18, 16, 14, 11, 9, 7, 6, 6, 5, 5, 5, 5, 5, 5, 5, 5, 5, 5, 5, 5, 5, 5, 5],
    [55, 50, 48, 45, 42, 40, 38, 35, 36, 33, 30, 28, 30, 27, 28,
     18, 16, 14, 11, 9, 7, 6, 6, 5, 5, 5, 5, 5, 5, 5, 5, 5, 5, 5, 5, 5, 5, 5],
    [40, 38, 36, 35, 33, 32, 30, 28, 29, 27, 25, 24, 26, 23, 24,
     17, 15, 13, 11, 9, 7, 6, 6, 5, 5, 5, 5, 5, 5, 5, 5, 5, 5, 5, 5, 5, 5, 5],
    [28, 27, 26, 25, 24, 23, 22, 22, 21, 21, 20, 20, 20, 19, 19,
     16, 14, 12, 10, 8, 7, 6, 6, 5, 5, 5, 5, 5, 5, 5, 5, 5, 5, 5, 5, 5, 5, 5],
    [170, 176, 182, 180, 192, 202, 212, 200, 210, 205, 215, 208,
     30, 26, 24, 20, 18, 15, 12, 9, 7, 6, 6, 5, 5, 5, 5, 5, 5, 5, 5, 5, 5, 5, 5, 5, 5, 5],
    [168, 174, 178, 176, 186, 196, 204, 210, 214, 205, 200, 190, 185, 195,
     28, 22, 18, 15, 12, 9, 7, 6, 6, 5, 5, 5, 5, 5, 5, 5, 5, 5, 5, 5, 5, 5, 5, 5],
    [160, 165, 170, 155, 150, 145,
     40, 30, 26, 24, 22, 21, 20, 20, 19, 19, 18, 17, 15, 12, 9, 7, 6, 6, 5, 5, 5, 5, 5, 5, 5, 5,
     5, 5, 5, 5, 5, 5],
    [166, 170, 176, 174, 184, 194, 202, 210, 218, 224, 232, 228, 214, 205, 212,
     20, 18, 15, 12, 9, 7, 6, 6, 5, 5, 5, 5, 5, 5, 5, 5, 5, 5, 5, 5, 5, 5, 5],
    [160, 150, 140, 130, 135, 125, 130, 120, 125, 110, 105, 98, 90, 88, 92,
     20, 18, 15, 12, 9, 7, 6, 6, 5, 5, 5, 5, 5, 5, 5, 5, 5, 5, 5, 5, 5, 5, 5],
]
D_KR = [
    [1, 1, 1, 1, 1, 1, 1, 1, 1, 1, 1, 1, 1, 1, 1, 1, 1, 1, 1,
     1, 1, 1, 1, 1, 1, 1, 1, 1, 1, 1, 1, 1, 1, 1, 1, 1, 1, 1],
]
D_GT = [
    [180, 178, 25, 18, 16, 15, 15, 14, 14, 14, 13, 13, 13, 12, 12, 12,
     14, 16, 18, 25, 160, 130, 110, 155, 150, 120, 150, 155, 158, 150, 140, 150, 155, 158, 150, 140, 125, 120],
    [180, 180, 178, 22, 17, 16, 15, 15, 14, 14, 13, 13, 13, 12, 12, 12,
     20, 155, 156, 168, 168, 169, 170, 170, 170, 170, 170, 170, 170, 170, 170, 170, 170, 170, 169, 169, 168, 168],
    [180, 180, 179, 178, 20, 17, 16, 15, 15, 14, 14, 13, 13, 13, 12, 12,
     14, 15, 16, 20, 160, 85, 160, 160, 25, 140, 145, 150, 130, 105, 135, 150, 152, 140, 110, 80, 75, 60],
    [180, 180, 180, 179, 178, 20, 17, 16, 15, 15, 14, 14, 13, 13, 12, 12,
     14, 15, 16, 22, 155, 158, 160, 162, 163, 163, 163, 162, 150, 145, 150, 160, 162, 160, 155, 150, 145, 140],
    [180, 180, 180, 180, 179, 178, 20, 17, 16, 15, 15, 14, 14, 13, 13, 12,
     14, 15, 16, 18, 22, 25, 160, 160, 28, 150, 150, 140, 100, 65, 100, 140, 145, 120, 80, 55, 50, 45],
    [180, 180, 180, 180, 180, 179, 178, 22, 18, 16, 15, 15, 14, 14, 13, 13,
     15, 18, 20, 165, 166, 167, 168, 168, 169, 169, 169, 169, 169, 169, 169, 169, 168, 168, 168, 167, 167, 166],
    [180, 180, 180, 180, 180, 179, 178, 177, 25, 18, 16, 15, 15, 14, 13, 13,
     14, 15, 16, 18, 20, 22, 25, 30, 28, 130, 140, 110, 70, 35, 60, 90, 95, 70, 45, 35, 33, 32],
    [180, 180, 180, 180, 179, 179, 178, 177, 176, 175, 28, 20, 17, 16, 15, 14,
     14, 15, 16, 20, 25, 160, 162, 165, 150, 160, 162, 164, 164, 162, 158, 162, 164, 163, 160, 155, 150, 130],
    [150, 140, 20, 16, 15, 15, 14, 14, 14, 13, 13, 13, 12, 12, 12, 12,
     14, 15, 16, 17, 18, 20, 22, 25, 26, 30, 60, 90, 60, 40, 50, 80, 88, 60, 40, 30, 28, 28],
    [180, 180, 180, 180, 179, 179, 178, 177, 176, 175, 172, 22, 18, 16, 15, 14,
     15, 55, 60, 165, 160, 150, 165, 165, 166, 166, 166, 165, 165, 164, 164, 163, 163, 162, 160, 158, 155, 150],
    [30, 28, 26, 24, 22, 20, 19, 18, 17, 16, 15, 15, 14, 14, 13, 13,
     14, 15, 15, 16, 17, 18, 19, 20, 21, 22, 25, 35, 28, 24, 26, 38, 40, 30, 24, 22, 21, 21],
    [20, 19, 18, 17, 17, 16, 16, 15, 15, 14, 14, 13, 13, 13, 12, 12,
     12, 13, 14, 15, 15, 16, 16, 17, 17, 18, 18, 18, 18, 18, 18, 18, 18, 18, 18, 18, 18, 18],
    [178, 177, 176, 20, 17, 16, 15, 15, 14, 14, 13, 13, 13, 12, 12, 12,
     14, 15, 16, 18, 22, 30, 160, 158, 160, 162, 163, 145, 120, 100, 125, 150, 155, 150, 130, 100, 85, 80],
    [180, 180, 180, 180, 180, 179, 178, 178, 177, 24, 18, 16, 15, 14, 13, 13,
     14, 15, 16, 18, 20, 24, 90, 40, 30, 100, 135, 125, 100, 50, 80, 130, 140, 120, 90, 60, 40, 35],
    [180, 180, 180, 180, 180, 180, 179, 178, 178, 177, 176, 26, 18, 16, 15, 14,
     14, 15, 16, 20, 24, 160, 164, 166, 167, 167, 167, 166, 166, 166, 166, 166, 166, 165, 165, 164, 163, 162],
    [180, 180, 180, 180, 179, 178, 22, 18, 16, 15, 15, 14, 14, 13, 13, 12,
     14, 15, 16, 18, 158, 162, 140, 165, 165, 166, 166, 150, 135, 120, 140, 155, 158, 150, 140, 130, 120, 115],
    [180, 180, 180, 180, 180, 180, 179, 178, 23, 18, 16, 15, 14, 14, 13, 13,
     14, 15, 16, 18, 22, 26, 30, 160, 140, 150, 155, 145, 125, 90, 120, 148, 150, 135, 100, 70, 60, 55],
]
D_KNI = [
    [3, 3, 3, 3, 4, 4, 4, 5, 5, 5, 6, 6, 6, 7, 7, 8, 18, 22, 22,
     21, 20, 20, 19, 19, 18, 18, 18, 18, 18, 18, 18, 18, 18, 18, 18, 18, 18, 18],
    [7, 7, 7, 8, 8, 8, 9, 9, 9, 10, 10, 10, 11, 11, 12, 12, 16, 20, 21,
     20, 19, 18, 18, 17, 17, 17, 16, 16, 16, 16, 16, 16, 16, 16, 16, 16, 16, 16],
    [5, 5, 5, 5, 6, 6, 6, 6, 7, 7, 7, 8, 8, 8, 9, 10, 14, 18, 19,
     18, 17, 17, 16, 16, 15, 15, 15, 15, 15, 15, 15, 15, 15, 15, 15, 15, 15, 15],
    [2, 2, 2, 2, 2, 2, 3, 3, 3, 3, 3, 4, 4, 4, 4, 5, 12, 20, 23,
     22, 21, 20, 20, 19, 19, 19, 19, 19, 19, 19, 19, 19, 19, 19, 19, 19, 19, 19],
    [4, 4, 4, 4, 5, 5, 5, 6, 6, 6, 7, 7, 7, 8, 8, 9, 15, 20, 21,
     21, 20, 19, 19, 18, 18, 17, 17, 17, 17, 17, 17, 17, 17, 17, 17, 17, 17, 17],
    [6, 6, 6, 6, 7, 7, 7, 7, 8, 8, 8, 9, 9, 9, 10, 11, 17, 21, 22,
     21, 20, 20, 20, 20, 20, 20, 20, 20, 20, 20, 20, 20, 20, 20, 20, 20, 20, 20],
    [3, 3, 3, 3, 3, 4, 4, 4, 4, 5, 5, 5, 5, 6, 6, 7, 13, 18, 20,
     19, 18, 17, 16, 15, 15, 14, 14, 14, 14, 14, 14, 14, 14, 14, 14, 14, 14, 14],
]

PANELS = [
    dict(label="A", xs=EL_SMOOTH, shape="spline",
         data={"Hb": A_HB, "Kr": A_KR, "Gt": A_GT, "Kni": A_KNI},
         xdom=[125 / 1189, 510 / 1189], ydom=[1 - 358 / 838, 1 - 18 / 838], xlabels=False),
    dict(label="B", xs=EL_SMOOTH, shape="spline",
         data={"Hb": B_HB, "Kr": B_KR, "Gt": B_GT, "Kni": B_KNI},
         xdom=[626 / 1189, 1011 / 1189], ydom=[1 - 358 / 838, 1 - 18 / 838], xlabels=False),
    dict(label="C", xs=EL_FINE, shape="linear",
         data={"Hb": C_HB, "Kr": C_KR, "Gt": C_GT, "Kni": C_KNI},
         xdom=[125 / 1189, 510 / 1189], ydom=[1 - 740 / 838, 1 - 400 / 838], xlabels=True),
    dict(label="D", xs=EL_FINE, shape="linear",
         data={"Hb": D_HB, "Kr": D_KR, "Gt": D_GT, "Kni": D_KNI},
         xdom=[627 / 1189, 1011 / 1189], ydom=[1 - 740 / 838, 1 - 400 / 838], xlabels=True),
]

fig = go.Figure()

for p, panel in enumerate(PANELS):
    suffix = "" if p == 0 else str(p + 1)
    xs = panel["xs"]
    n = max(len(panel["data"][g]) for g in GENES)
    # interleave genes so no single gene sits entirely on top
    for i in range(n):
        for g in GENES:
            curves = panel["data"][g]
            if i >= len(curves):
                continue
            ys = curves[i]
            assert len(ys) == len(xs), (panel["label"], g, i, len(ys))
            fig.add_trace(go.Scatter(
                x=xs, y=ys, mode="lines", name=g,
                line=dict(color=GENE_COLORS[g], width=1.7, shape=panel["shape"]),
                xaxis="x" + suffix, yaxis="y" + suffix,
                showlegend=False, hoverinfo="skip",
            ))

axis_style = dict(
    showline=True, linecolor="black", linewidth=1, mirror="ticks",
    ticks="inside", ticklen=6, tickwidth=1.5, tickcolor="black",
    showgrid=False, zeroline=False, automargin=False,
    tickfont=dict(family="DejaVu Sans", size=14, color="#222222"),
)

layout = dict(
    width=1189, height=838,
    margin=dict(l=0, r=0, t=0, b=0, pad=0, autoexpand=False),
    paper_bgcolor="white", plot_bgcolor="white",
    showlegend=False,
)
for p, panel in enumerate(PANELS):
    suffix = "" if p == 0 else str(p + 1)
    layout["xaxis" + suffix] = dict(
        axis_style, domain=panel["xdom"], range=[35, 72], tickvals=X_TICKS,
        showticklabels=panel["xlabels"], anchor="y" + suffix,
    )
    layout["yaxis" + suffix] = dict(
        axis_style, domain=panel["ydom"], range=[0, 300], tickvals=Y_TICKS,
        anchor="x" + suffix,
    )
fig.update_layout(**layout)

# panel letters
letter_pos = {"A": (157, 45), "B": (659, 44), "C": (160, 420), "D": (662, 420)}
for panel in PANELS:
    px, py = letter_pos[panel["label"]]
    fig.add_annotation(
        text="<b>%s</b>" % panel["label"], x=px / 1189, y=1 - py / 838,
        xref="paper", yref="paper", showarrow=False, xanchor="center", yanchor="middle",
        font=dict(family="DejaVu Sans", size=26, color="black"),
    )

# shared axis titles
fig.add_annotation(
    text="Relative Protein Concentration", x=38 / 1189, y=1 - 390 / 838,
    xref="paper", yref="paper", showarrow=False, textangle=-90,
    xanchor="center", yanchor="middle",
    font=dict(family="DejaVu Sans Condensed, DejaVu Sans", size=56, color="black"),
)
fig.add_annotation(
    text="Percent Egg Length (%EL)", x=584 / 1189, y=1 - 809 / 838,
    xref="paper", yref="paper", showarrow=False, xanchor="center", yanchor="middle",
    font=dict(family="DejaVu Sans Condensed, DejaVu Sans", size=44, color="black"),
)

# legend frame (open on the right edge) with one sample line per gene
frame = dict(color="#222222", width=1)
lx0, ly0, ly1 = 1029 / 1189, 1 - 171 / 838, 1 - 16 / 838
fig.add_shape(type="line", xref="paper", yref="paper", x0=lx0, x1=1.0, y0=ly1, y1=ly1, line=frame)
fig.add_shape(type="line", xref="paper", yref="paper", x0=lx0, x1=1.0, y0=ly0, y1=ly0, line=frame)
fig.add_shape(type="line", xref="paper", yref="paper", x0=lx0, x1=lx0, y0=ly0, y1=ly1, line=frame)
legend_rows = [41, 72.5, 104.5, 136.5]
for g, ry in zip(GENES, legend_rows):
    fig.add_shape(type="line", xref="paper", yref="paper",
                  x0=1066 / 1189, x1=1110 / 1189, y0=1 - ry / 838, y1=1 - ry / 838,
                  line=dict(color=GENE_COLORS[g], width=1.5))
    fig.add_annotation(
        text=g, x=1136 / 1189, y=1 - ry / 838, xref="paper", yref="paper",
        showarrow=False, xanchor="left", yanchor="middle",
        font=dict(family="DejaVu Sans", size=16, color="#111111"),
    )

fig.write_html("out.html", config={"displayModeBar": False})
